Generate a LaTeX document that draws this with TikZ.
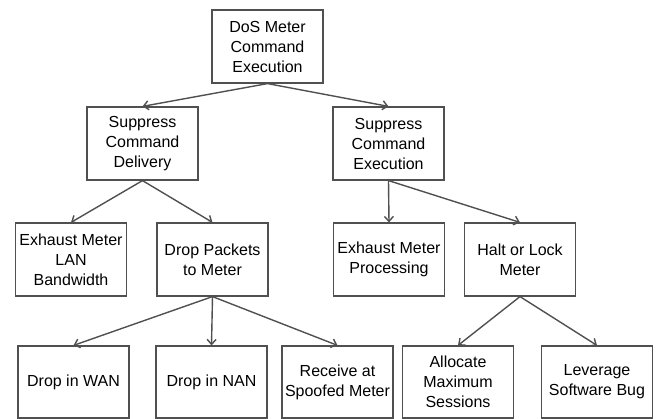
\documentclass[tikz,border=0pt]{standalone}
\usepackage{fontspec}
\setmainfont{Liberation Sans}
\usepackage{tikz}
\usetikzlibrary{arrows.meta}
\definecolor{linegray}{RGB}{80,80,80}
\tikzset{
  box/.style={draw=linegray, line width=1.2pt, fill=white, minimum width=111pt,
    minimum height=73pt, inner sep=0pt, align=center,
    font=\fontsize{16}{20}\selectfont},
  arr/.style={draw=linegray, line width=1.4pt, -{Straight Barb[length=5pt,width=9pt]}}
}

\begin{document}
\begin{tikzpicture}[x=1pt,y=-1pt]
  \useasboundingbox (0,0) rectangle (659,419);
  % top
  \node[box] (dos) at (267.5,46.5) {DoS Meter\\Command\\Execution};
  % second row
  \node[box] (deliv) at (142.5,143.5) {Suppress\\Command\\Delivery};
  \node[box] (exec) at (388.5,143.5) {Suppress\\Command\\Execution};
  % third row
  \node[box] (lan) at (71,259.5) {Exhaust Meter\\LAN\\Bandwidth};
  \node[box] (drop) at (212.5,259.5) {Drop Packets\\to Meter};
  \node[box] (proc) at (389,259.5) {Exhaust Meter\\Processing};
  \node[box] (halt) at (520,259.5) {Halt or Lock\\Meter};
  % bottom row
  \node[box, minimum height=72pt] (wan) at (73.5,382) {Drop in WAN};
  \node[box, minimum height=72pt] (nan) at (211.5,382) {Drop in NAN};
  \node[box, minimum height=72pt] (spoof) at (337.5,382) {Receive at\\Spoofed Meter};
  \node[box, minimum height=72pt] (alloc) at (458,382) {Allocate\\Maximum\\Sessions};
  \node[box, minimum height=72pt] (bug) at (597,382) {Leverage\\Software Bug};

  \draw[arr] (dos.south) -- (deliv.north);
  \draw[arr] (dos.south) -- (exec.north);
  \draw[arr] (deliv.south) -- (lan.north);
  \draw[arr] (deliv.south) -- (drop.north);
  \draw[arr] (exec.south) -- (proc.north);
  \draw[arr] (exec.south) -- (halt.north);
  \draw[arr] (drop.south) -- (wan.north);
  \draw[arr] (drop.south) -- (nan.north);
  \draw[arr] (drop.south) -- (spoof.north);
  \draw[arr] (halt.south) -- (alloc.north);
  \draw[arr] (halt.south) -- (bug.north);
\end{tikzpicture}
\end{document}
